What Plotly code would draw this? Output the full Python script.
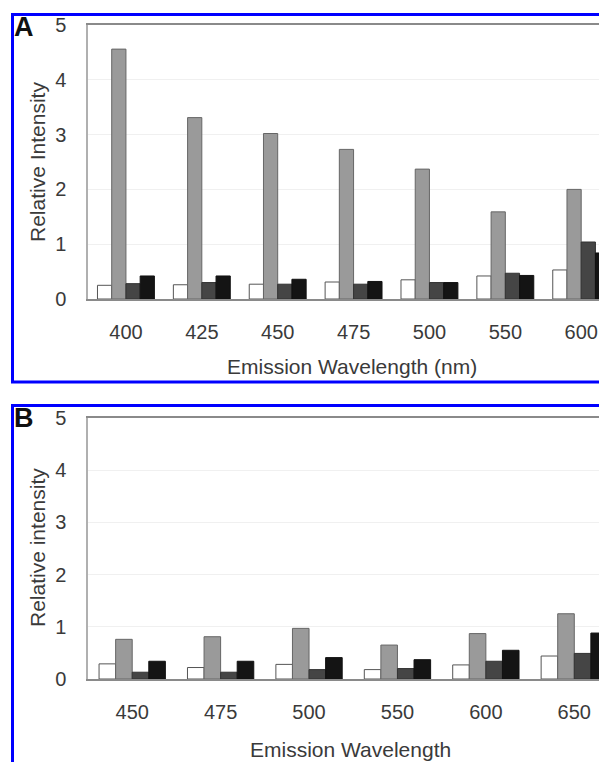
import plotly.graph_objects as go

# ---------------- data ----------------
categories_a = ["400", "425", "450", "475", "500", "550", "600"]
white_a = [0.25, 0.26, 0.27, 0.31, 0.35, 0.42, 0.53]
gray_a = [4.56, 3.31, 3.02, 2.73, 2.37, 1.59, 2.00]
dark_a = [0.28, 0.30, 0.27, 0.27, 0.30, 0.47, 1.04]
black_a = [0.42, 0.42, 0.36, 0.32, 0.30, 0.43, 0.84]

categories_b = ["450", "475", "500", "550", "600", "650"]
white_b = [0.29, 0.22, 0.28, 0.18, 0.27, 0.44]
gray_b = [0.76, 0.81, 0.97, 0.65, 0.87, 1.25]
dark_b = [0.13, 0.13, 0.18, 0.20, 0.34, 0.49]
black_b = [0.34, 0.34, 0.41, 0.37, 0.55, 0.88]

y_ticks = [0, 1, 2, 3, 4, 5]

# ---------------- layout geometry (page pixels; body margin = 8px) ----------------
OFF = 8
W, H = 607 - OFF, 762 - OFF
PLOT_L, PLOT_T, PLOT_B = 88, 25, 679          # page coordinates
ML, MR = PLOT_L - OFF, 0
MT = PLOT_T - OFF
MB = H - (PLOT_B - OFF)
PW = W - ML - MR
PH = H - MT - MB


def px_x(x):
    return (x - OFF - ML) / PW


def px_y(y):
    return (H - MB - (y - OFF)) / PH


FONT = "Liberation Sans, Arial, sans-serif"
TXT = "#3a3a3a"

series_style = [
    dict(fill="#ffffff", line="#555555"),
    dict(fill="#9a9a9a", line="#666666"),
    dict(fill="#454545", line="#333333"),
    dict(fill="#141414", line="#111111"),
]

fig = go.Figure()

for vals, st in zip([white_a, gray_a, dark_a, black_a], series_style):
    fig.add_trace(go.Bar(x=categories_a, y=vals, xaxis="x", yaxis="y",
                         marker=dict(color=st["fill"], line=dict(color=st["line"], width=1)),
                         showlegend=False))
for vals, st in zip([white_b, gray_b, dark_b, black_b], series_style):
    fig.add_trace(go.Bar(x=categories_b, y=vals, xaxis="x2", yaxis="y2",
                         marker=dict(color=st["fill"], line=dict(color=st["line"], width=1)),
                         showlegend=False))

xaxis_common = dict(type="category", showgrid=False, showline=True, linecolor="#8a8a8a",
                    linewidth=1.5, mirror=True, ticks="", zeroline=False,
                    tickfont=dict(family=FONT, size=20, color=TXT), ticklabelstandoff=14)
yaxis_common = dict(range=[0, 5], tickvals=y_ticks, showgrid=True, gridcolor="#f0f0f0",
                    showline=True, linecolor="#b0b0b0", linewidth=1.5, ticks="",
                    zeroline=False, tickfont=dict(family=FONT, size=20, color=TXT),
                    ticklabelstandoff=16)

fig.update_layout(
    width=W, height=H,
    margin=dict(l=ML, r=MR, t=MT, b=MB, pad=0),
    paper_bgcolor="white", plot_bgcolor="white",
    barmode="group", bargap=0.25, bargroupgap=0,
    xaxis=dict(xaxis_common, domain=[0, 1], anchor="y", range=[-0.5, 6.34]),
    yaxis=dict(yaxis_common, domain=[px_y(299), 1], anchor="x"),
    xaxis2=dict(xaxis_common, domain=[0, 1], anchor="y2", range=[-0.5, 5.37]),
    yaxis2=dict(yaxis_common, domain=[0, px_y(418)], anchor="x2"),
)

# blue panel borders
fig.add_shape(type="rect", xref="paper", yref="paper",
              x0=px_x(12.5), x1=1.2, y0=px_y(382), y1=px_y(14.5),
              line=dict(color="#0000ff", width=3), fillcolor="rgba(0,0,0,0)", layer="above")
fig.add_shape(type="rect", xref="paper", yref="paper",
              x0=px_x(12.5), x1=1.2, y0=-0.3, y1=px_y(405.5),
              line=dict(color="#0000ff", width=3), fillcolor="rgba(0,0,0,0)", layer="above")

ann = []
# panel letters
ann.append(dict(text="<b>A</b>", x=px_x(12), y=px_y(10), xref="paper", yref="paper",
                xanchor="left", yanchor="top", showarrow=False,
                font=dict(family=FONT, size=27, color="#111111")))
ann.append(dict(text="<b>B</b>", x=px_x(12), y=px_y(401), xref="paper", yref="paper",
                xanchor="left", yanchor="top", showarrow=False,
                font=dict(family=FONT, size=27, color="#111111")))
# axis titles
ann.append(dict(text="Relative Intensity", x=px_x(37), y=px_y(162), xref="paper", yref="paper",
                textangle=-90, showarrow=False, xanchor="center", yanchor="middle",
                font=dict(family=FONT, size=21, color=TXT)))
ann.append(dict(text="Relative intensity", x=px_x(37), y=px_y(548), xref="paper", yref="paper",
                textangle=-90, showarrow=False, xanchor="center", yanchor="middle",
                font=dict(family=FONT, size=21, color=TXT)))
ann.append(dict(text="Emission Wavelength (nm)", x=px_x(352), y=px_y(366), xref="paper",
                yref="paper", showarrow=False, xanchor="center", yanchor="middle",
                font=dict(family=FONT, size=21, color=TXT)))
ann.append(dict(text="Emission Wavelength", x=px_x(350), y=px_y(749), xref="paper",
                yref="paper", showarrow=False, xanchor="center", yanchor="middle",
                font=dict(family=FONT, size=21, color=TXT)))
fig.update_layout(annotations=ann)

fig.write_html("out.html")
